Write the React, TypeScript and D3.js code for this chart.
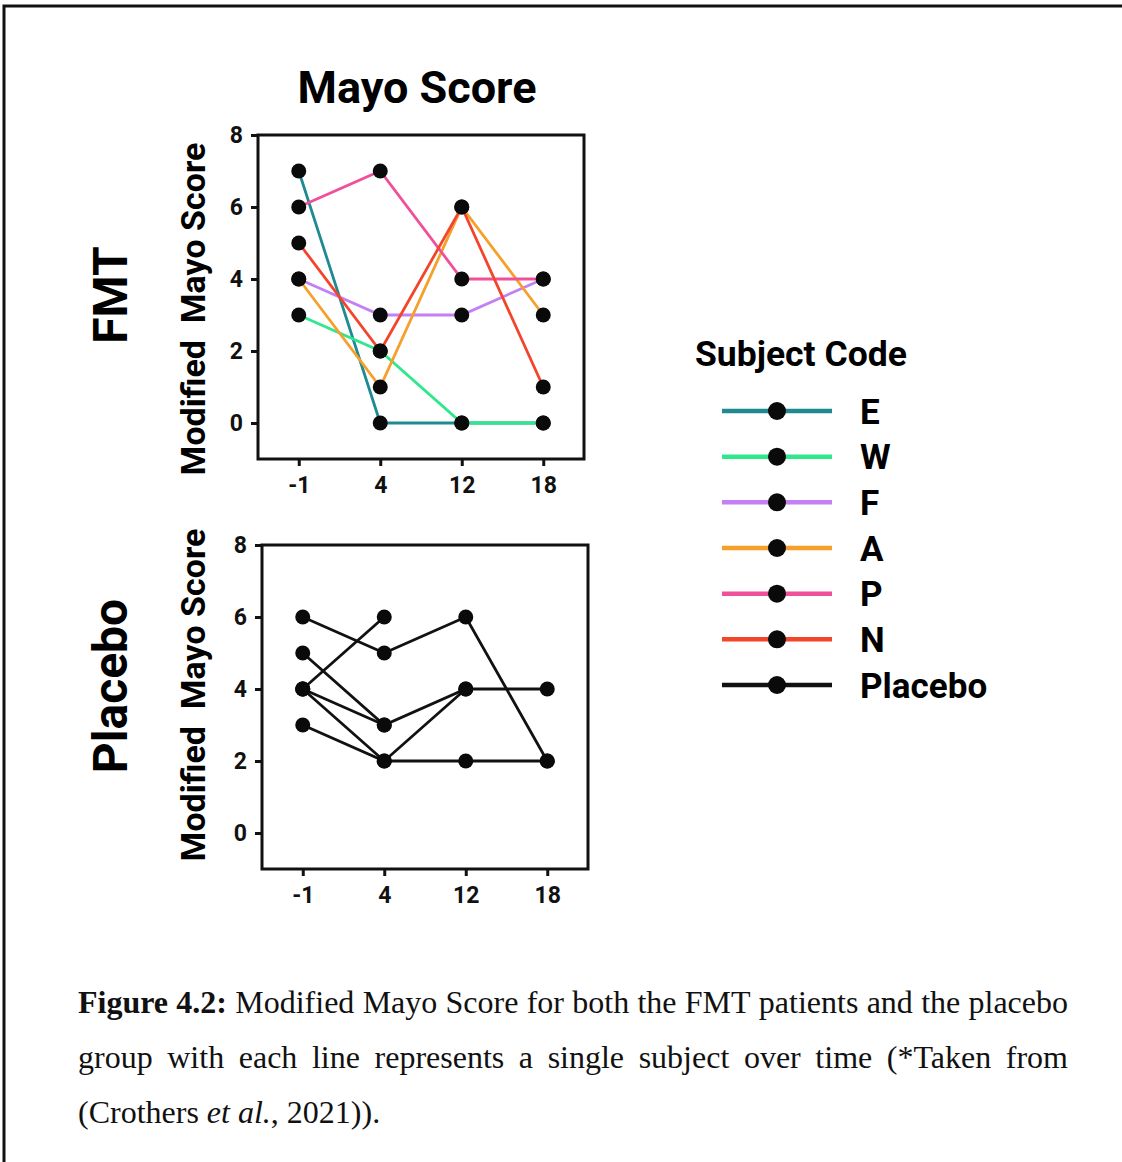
import { useEffect, useRef } from "react";
import * as d3 from "d3";

// weeks on the x axis
const weeks = ["-1", "4", "12", "18"];
const yTicks = [0, 2, 4, 6, 8];

// FMT subjects
const subjectCodes = ["E", "W", "F", "A", "P", "N"];
const subjectColors = ["#1f8a92", "#2fe88c", "#c47ff6", "#f6a02b", "#f0509a", "#f3452a"];
const scoresE = [7, 0, 0, 0];
const scoresW = [3, 2, 0, 0];
const scoresF = [4, 3, 3, 4];
const scoresA = [4, 1, 6, 3];
const scoresP = [6, 7, 4, 4];
const scoresN = [5, 2, 6, 1];

// placebo subjects (null = no visit)
const placebo1 = [6, 5, 6, 2];
const placebo2 = [4, 6, null, null];
const placebo3 = [5, 3, 4, 4];
const placebo4 = [4, 3, null, null];
const placebo5 = [4, 2, 4, null];
const placebo6 = [3, 2, 2, 2];

const legendLabels = [...subjectCodes, "Placebo"];
const legendColors = [...subjectColors, "#111"];

const captionBold = ["Figure", "4.2:"];
const captionLine1 = "Modified Mayo Score for both the FMT patients and the placebo";
const captionLine2 = "group with each line represents a single subject over time (*Taken from";

type Series = { values: (number | null)[]; color: string };
type Box = { left: number; right: number; top: number; bottom: number };

const SANS = "Roboto, 'Liberation Sans', Arial, sans-serif";
const SERIF = "'Liberation Serif', 'Times New Roman', serif";

function drawPanel(
  svg: d3.Selection<SVGSVGElement, unknown, null, undefined>,
  series: Series[],
  box: Box,
  labelX: number,
  labelY: number
) {
  const x = d3.scalePoint<string>().domain(weeks).range([box.left, box.right]).padding(0.5);
  const y = d3.scaleLinear().domain([-1, 8]).range([box.bottom, box.top]);
  const g = svg.append("g");

  const styleAxis = (a: d3.Selection<SVGGElement, unknown, null, undefined>) => {
    a.select(".domain").remove();
    a.selectAll("line").attr("stroke", "#111").attr("stroke-width", 3);
    a.selectAll("text")
      .attr("font-family", SANS)
      .attr("font-weight", 700)
      .attr("font-size", 23)
      .attr("fill", "#111");
  };

  g.append("g")
    .attr("transform", `translate(0,${box.bottom})`)
    .call(d3.axisBottom(x).tickSize(7).tickSizeOuter(0).tickPadding(11))
    .call(styleAxis);

  g.append("g")
    .attr("transform", `translate(${box.left},0)`)
    .call(d3.axisLeft(y).tickValues(yTicks).tickFormat(d3.format("d")).tickSize(7).tickSizeOuter(0).tickPadding(8))
    .call(styleAxis);

  g.append("rect")
    .attr("x", box.left)
    .attr("y", box.top)
    .attr("width", box.right - box.left)
    .attr("height", box.bottom - box.top)
    .attr("fill", "none")
    .attr("stroke", "#111")
    .attr("stroke-width", 3);

  const line = d3
    .line<[string, number | null]>()
    .defined((d) => d[1] != null)
    .x((d) => x(d[0])!)
    .y((d) => y(d[1] as number));

  series.forEach((s) => {
    g.append("path")
      .datum(weeks.map((w, i) => [w, s.values[i]] as [string, number | null]))
      .attr("d", line)
      .attr("fill", "none")
      .attr("stroke", s.color)
      .attr("stroke-width", 2.8);
  });

  series.forEach((s) => {
    g.selectAll(null)
      .data(weeks.map((w, i) => [w, s.values[i]] as [string, number | null]).filter((d) => d[1] != null))
      .enter()
      .append("circle")
      .attr("cx", (d) => x(d[0])!)
      .attr("cy", (d) => y(d[1] as number))
      .attr("r", 7.5)
      .attr("fill", "#0a0a0a");
  });

  g.append("text")
    .attr("transform", `translate(${labelX},${labelY}) rotate(-90)`)
    .attr("text-anchor", "middle")
    .attr("dominant-baseline", "central")
    .attr("font-family", SANS)
    .attr("font-weight", 700)
    .attr("font-size", 34)
    .style("white-space", "pre")
    .text("Modified  Mayo Score");
}

export default function App() {
  const ref = useRef<SVGSVGElement>(null);

  useEffect(() => {
    if (!ref.current) return;
    const svg = d3.select(ref.current);
    svg.selectAll("*").remove();

    // page frame (top and left only)
    svg.append("path")
      .attr("d", "M4,1162 L4,6 L1122,6")
      .attr("fill", "none")
      .attr("stroke", "#111")
      .attr("stroke-width", 3);

    svg.append("text")
      .attr("x", 417)
      .attr("y", 103)
      .attr("text-anchor", "middle")
      .attr("font-family", SANS)
      .attr("font-weight", 700)
      .attr("font-size", 45)
      .text("Mayo Score");

    const fmtScores = [scoresE, scoresW, scoresF, scoresA, scoresP, scoresN];
    drawPanel(
      svg,
      fmtScores.map((v, i) => ({ values: v, color: subjectColors[i] })),
      { left: 258, right: 584, top: 135, bottom: 459 },
      193,
      309
    );

    const placebo = [placebo1, placebo2, placebo3, placebo4, placebo5, placebo6];
    drawPanel(
      svg,
      placebo.map((v) => ({ values: v, color: "#111" })),
      { left: 262, right: 588, top: 545, bottom: 869 },
      193,
      695
    );

    // group labels
    [
      { t: "FMT", y: 295 },
      { t: "Placebo", y: 686 },
    ].forEach((d) => {
      svg.append("text")
        .attr("transform", `translate(110,${d.y}) rotate(-90)`)
        .attr("text-anchor", "middle")
        .attr("dominant-baseline", "central")
        .attr("font-family", SANS)
        .attr("font-weight", 700)
        .attr("font-size", 48)
        .text(d.t);
    });

    // legend
    svg.append("text")
      .attr("x", 695)
      .attr("y", 366)
      .attr("font-family", SANS)
      .attr("font-weight", 700)
      .attr("font-size", 35.5)
      .text("Subject Code");

    const ly = d3.scalePoint<string>().domain(legendLabels).range([411, 685]);
    const leg = svg
      .selectAll(".legend")
      .data(legendLabels)
      .enter()
      .append("g")
      .attr("class", "legend")
      .attr("transform", (d) => `translate(0,${ly(d)})`);
    leg.append("line")
      .attr("x1", 722)
      .attr("x2", 832)
      .attr("stroke", (_d, i) => legendColors[i])
      .attr("stroke-width", 4.5);
    leg.append("circle").attr("cx", 777).attr("r", 9).attr("fill", "#0a0a0a");
    leg.append("text")
      .attr("x", 860)
      .attr("dy", "0.36em")
      .attr("font-family", SANS)
      .attr("font-weight", 700)
      .attr("font-size", 35)
      .text((d) => d);

    // caption
    const cap = svg.append("g").attr("font-family", SERIF).attr("font-size", 32).attr("fill", "#111");
    const justify = (words: { t: string; bold: boolean }[], y: number, x0: number, x1: number) => {
      const nodes = words.map((w) =>
        cap.append("text").attr("y", y).attr("font-weight", w.bold ? 700 : 400).text(w.t)
      );
      const widths = nodes.map((n) => (n.node() as SVGTextElement).getComputedTextLength());
      const gap = (x1 - x0 - d3.sum(widths)) / (words.length - 1);
      let x = x0;
      nodes.forEach((n, i) => {
        n.attr("x", x);
        x += widths[i] + gap;
      });
    };
    justify(
      [
        ...captionBold.map((t) => ({ t, bold: true })),
        ...captionLine1.split(" ").map((t) => ({ t, bold: false })),
      ],
      1013,
      78,
      1068
    );
    justify(captionLine2.split(" ").map((t) => ({ t, bold: false })), 1068, 78, 1068);
    const last = cap.append("text").attr("x", 78).attr("y", 1123);
    last.append("tspan").text("(Crothers ");
    last.append("tspan").attr("font-style", "italic").text("et al.");
    last.append("tspan").text(", 2021)).");
  }, []);

  return (
    <div style={{ position: "absolute", left: 0, top: 0 }}>
      <svg ref={ref} width={1122} height={1162} style={{ display: "block", background: "#fff" }} />
    </div>
  );
}
